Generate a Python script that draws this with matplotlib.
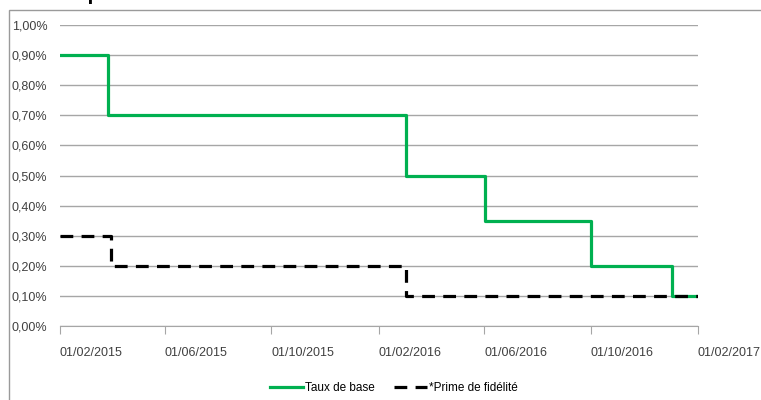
import numpy as np
import matplotlib
matplotlib.use("Agg")
import matplotlib.pyplot as plt
import matplotlib.dates as mdates
from matplotlib.patches import Rectangle
from matplotlib.ticker import FuncFormatter
from datetime import datetime

# Step dates and rates (%)
base_dates = ["2015-02-01", "2015-03-28", "2016-03-04", "2016-06-02", "2016-10-01", "2017-01-02", "2017-02-01"]
base_rate = [0.90, 0.70, 0.50, 0.35, 0.20, 0.10, 0.10]

prime_dates = ["2015-02-01", "2015-04-01", "2016-03-04", "2017-02-01"]
prime_rate = [0.30, 0.20, 0.10, 0.10]

tick_dates = ["2015-02-01", "2015-06-01", "2015-10-01", "2016-02-01",
              "2016-06-01", "2016-10-01", "2017-02-01"]

to_dt = lambda lst: [datetime.strptime(d, "%Y-%m-%d") for d in lst]

plt.rcParams['font.family'] = ['Liberation Sans', 'DejaVu Sans']

fig = plt.figure(figsize=(7.61, 4.0), dpi=100)

# outer chart frame (cut off at right and bottom)
fig.patches.append(Rectangle((9 / 761, -0.1), 1.0, 0.1 + 390 / 400, transform=fig.transFigure,
                             fill=False, edgecolor='#9a9a9a', lw=1.0))
# title, mostly cropped at top as in the source screenshot
fig.text(10 / 761, 400.2 / 400, "Taux et primes de fidélité", fontsize=15, fontweight='bold',
         va='baseline', ha='left', color='black')

ax = fig.add_axes([60 / 761, 74 / 400, 638 / 761, 301 / 400])

ax.plot(to_dt(base_dates), base_rate, drawstyle='steps-post', color='#00B050', lw=2.3,
        label='Taux de base', zorder=3)
ax.plot(to_dt(prime_dates), prime_rate, drawstyle='steps-post', color='black', lw=2.3,
        linestyle=(0, (4, 2.6)), label='*Prime de fidélité', zorder=4)

ticks = to_dt(tick_dates)
ax.set_xlim(ticks[0], ticks[-1])
ax.set_ylim(0, 1.0)
ax.set_yticks(np.arange(0, 1.01, 0.1))
ax.yaxis.set_major_formatter(FuncFormatter(lambda v, p: f"{v:.2f}%".replace('.', ',')))
ax.set_xticks(ticks)
ax.xaxis.set_major_formatter(mdates.DateFormatter("%d/%m/%Y"))
for lbl in ax.get_xticklabels():
    lbl.set_horizontalalignment('left')

ax.grid(axis='y', color='#a6a6a6', lw=1.0)
ax.set_axisbelow(True)
for s in ['left', 'right', 'top']:
    ax.spines[s].set_visible(False)
ax.spines['bottom'].set_color('#a6a6a6')
ax.tick_params(axis='y', length=0, pad=9, labelsize=9, labelcolor='#404040')
ax.tick_params(axis='x', length=6, color='#a6a6a6', pad=9, labelsize=9, labelcolor='#404040')

ax.legend(loc='upper center', bbox_to_anchor=(0.523, -0.15), ncol=2, frameon=False,
          fontsize=8.5, handlelength=2.8, columnspacing=1.6, handletextpad=0.2)

fig.savefig("out.png", dpi=100)
